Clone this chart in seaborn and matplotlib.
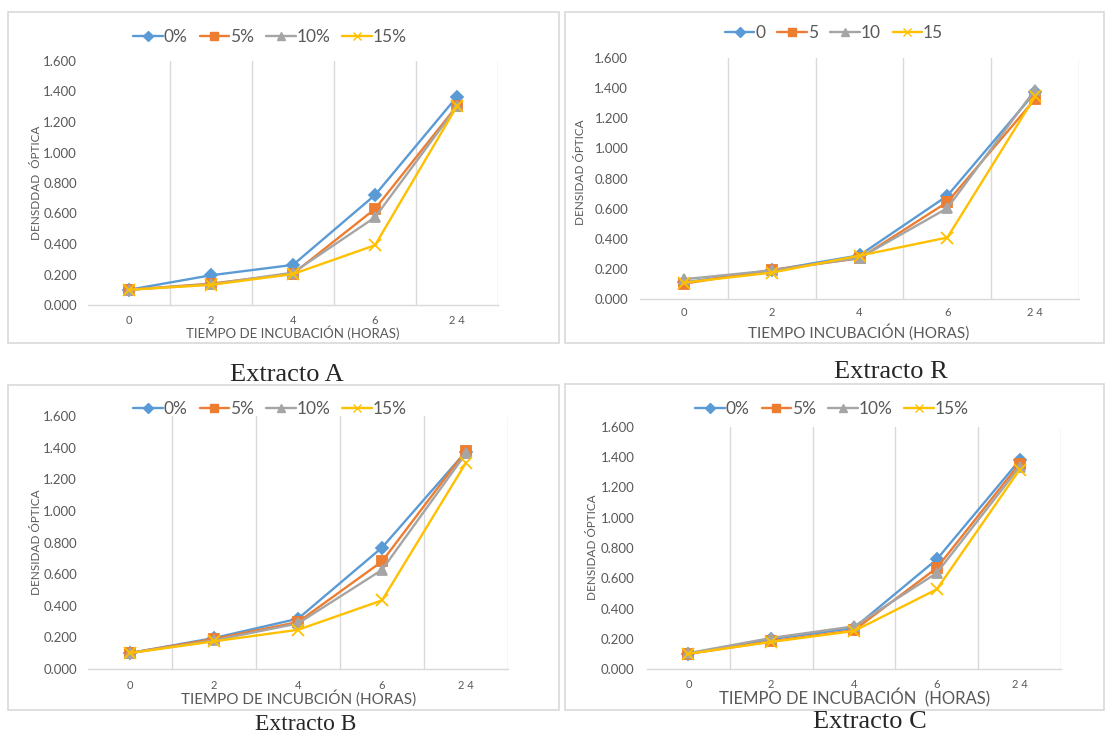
import numpy as np
import pandas as pd
import matplotlib
matplotlib.use("Agg")
import matplotlib.pyplot as plt
from matplotlib.patches import Rectangle
from matplotlib.lines import Line2D
import seaborn as sns

# ---- data -------------------------------------------------------------
hours = ["0", "2", "4", "6", "2 4"]

conc_pct = ["0%", "5%", "10%", "15%"]
conc_plain = ["0", "5", "10", "15"]

# Extracto A
a_0 = [0.100, 0.195, 0.263, 0.721, 1.366]
a_5 = [0.100, 0.140, 0.205, 0.630, 1.306]
a_10 = [0.100, 0.136, 0.212, 0.575, 1.302]
a_15 = [0.100, 0.132, 0.203, 0.392, 1.304]

# Extracto R
r_0 = [0.110, 0.190, 0.290, 0.685, 1.372]
r_5 = [0.102, 0.193, 0.270, 0.643, 1.327]
r_10 = [0.131, 0.190, 0.272, 0.603, 1.390]
r_15 = [0.109, 0.175, 0.288, 0.408, 1.345]

# Extracto B
b_0 = [0.101, 0.196, 0.318, 0.768, 1.375]
b_5 = [0.101, 0.190, 0.297, 0.680, 1.381]
b_10 = [0.101, 0.181, 0.288, 0.627, 1.364]
b_15 = [0.101, 0.175, 0.248, 0.434, 1.305]

# Extracto C
c_0 = [0.101, 0.198, 0.271, 0.725, 1.380]
c_5 = [0.100, 0.183, 0.256, 0.668, 1.358]
c_10 = [0.105, 0.205, 0.282, 0.635, 1.336]
c_15 = [0.101, 0.179, 0.251, 0.527, 1.318]

# ---- style ------------------------------------------------------------
sns.set_theme(style="white")
plt.rcParams["font.family"] = ["Lato", "DejaVu Sans"]

W, H = 1105, 737
colors = ["#5B9BD5", "#ED7D31", "#A5A5A5", "#FFC000"]
markers = ["D", "s", "^", "x"]
msizes = [6, 7.5, 7.5, 8]
text_gray = "#595959"
grid_gray = "#D9D9D9"

fig = plt.figure(figsize=(W / 100, H / 100), dpi=100)
fig.patch.set_facecolor("white")


def fx(x):
    return x / W


def fy(y):
    return 1 - y / H


def frame(x0, y0, x1, y1):
    fig.patches.append(Rectangle((fx(x0), fy(y1)), fx(x1) - fx(x0), fy(y0) - fy(y1),
                                 transform=fig.transFigure, fill=False,
                                 edgecolor=grid_gray, lw=1.2, zorder=0))


def panel(box, series, names, ylab, xlab, ylab_xy, xlab_xy, xlab_size,
          leg_xy, xtick_pad, ytick_pad, ytick_size=9.5):
    left, top, right, bottom = box
    ax = fig.add_axes([fx(left), fy(bottom), fx(right) - fx(left), fy(top) - fy(bottom)])
    pos = np.arange(len(hours))
    for vals, name, col, mk, ms in zip(series, names, colors, markers, msizes):
        df = pd.DataFrame({"pos": pos, "od": vals})
        sns.lineplot(data=df, x="pos", y="od", ax=ax, color=col, lw=1.7,
                     marker=mk, markersize=ms, markeredgecolor=col,
                     markerfacecolor=col, markeredgewidth=1.3, legend=False,
                     label=name)
    ax.set_xlim(-0.5, len(hours) - 0.5)
    ax.set_ylim(0, 1.6)
    ax.set_yticks(np.arange(0, 1.61, 0.2))
    ax.set_yticklabels([f"{v:.3f}" for v in np.arange(0, 1.61, 0.2)])
    ax.set_xticks(pos)
    ax.set_xticklabels(hours)
    ax.set_xticks(np.arange(0.5, len(hours), 1.0), minor=True)
    ax.grid(False)
    ax.grid(which="minor", axis="x", color=grid_gray, lw=1.0)
    ax.tick_params(axis="x", which="major", length=0, pad=xtick_pad,
                   labelsize=8, labelcolor=text_gray)
    ax.tick_params(axis="x", which="minor", length=0)
    ax.tick_params(axis="y", length=0, pad=ytick_pad, labelsize=ytick_size,
                   labelcolor=text_gray)
    for s in ["left", "right", "top"]:
        ax.spines[s].set_visible(False)
    ax.spines["bottom"].set_color(grid_gray)
    ax.spines["bottom"].set_linewidth(1.0)
    ax.set_xlabel("")
    ax.set_ylabel("")
    ax.set_facecolor("none")

    fig.text(fx(ylab_xy[0]), fy(ylab_xy[1]), ylab, rotation=90, ha="center",
             va="center", fontsize=8.5, color=text_gray)
    fig.text(fx(xlab_xy[0]), fy(xlab_xy[1]), xlab, ha="center", va="center",
             fontsize=xlab_size, color=text_gray)

    handles = [Line2D([], [], color=c, lw=1.7, marker=m, markersize=ms * 0.8,
                      markerfacecolor=c, markeredgecolor=c)
               for c, m, ms in zip(colors, markers, msizes)]
    fig.legend(handles, names, loc="center", bbox_to_anchor=(fx(leg_xy[0]), fy(leg_xy[1])),
               ncol=4, frameon=False, fontsize=12.5, handlelength=1.7,
               handletextpad=0.05, columnspacing=0.7, labelcolor=text_gray,
               borderaxespad=0, borderpad=0)
    return ax


# frames
frame(8, 12, 559, 343)
frame(565, 12, 1104, 343)
frame(8, 385, 559, 710)
frame(565, 384, 1104, 710)

panel((88, 61, 498, 305), [a_0, a_5, a_10, a_15], conc_pct,
      "DENSDDAD  ÓPTICA", "TIEMPO DE INCUBACIÓN (HORAS)",
      (37, 183), (293, 333), 9.5, (270, 37), 7.5, 8)

panel((640, 58, 1079, 299), [r_0, r_5, r_10, r_15], conc_plain,
      "DENSIDAD ÓPTICA", "TIEMPO INCUBACIÓN (HORAS)",
      (581, 172), (859, 332), 11, (834, 33), 6, 8.5)

panel((88, 416, 508, 669), [b_0, b_5, b_10, b_15], conc_pct,
      "DENSIDAD ÓPTICA", "TIEMPO DE INCUBCIÓN (HORAS)",
      (37, 542), (299, 698), 11, (270, 409), 8, 8)

panel((647, 427, 1061, 669), [c_0, c_5, c_10, c_15], conc_pct,
      "DENSIDAD ÓPTICA", "TIEMPO DE INCUBACIÓN  (HORAS)",
      (593, 547), (855, 698), 12, (832, 409), 7, 9)

# panel captions
serif = ["Liberation Serif", "DejaVu Serif"]
fig.text(fx(287), fy(375), "Extracto A", ha="center", va="center", fontsize=19, family=serif)
fig.text(fx(891), fy(372), "Extracto R", ha="center", va="center", fontsize=19, family=serif)
fig.text(fx(306), fy(725), "Extracto B", ha="center", va="center", fontsize=17, family=serif)
fig.text(fx(870), fy(722), "Extracto C", ha="center", va="center", fontsize=19, family=serif)

fig.savefig("out.png", dpi=100, facecolor="white")
